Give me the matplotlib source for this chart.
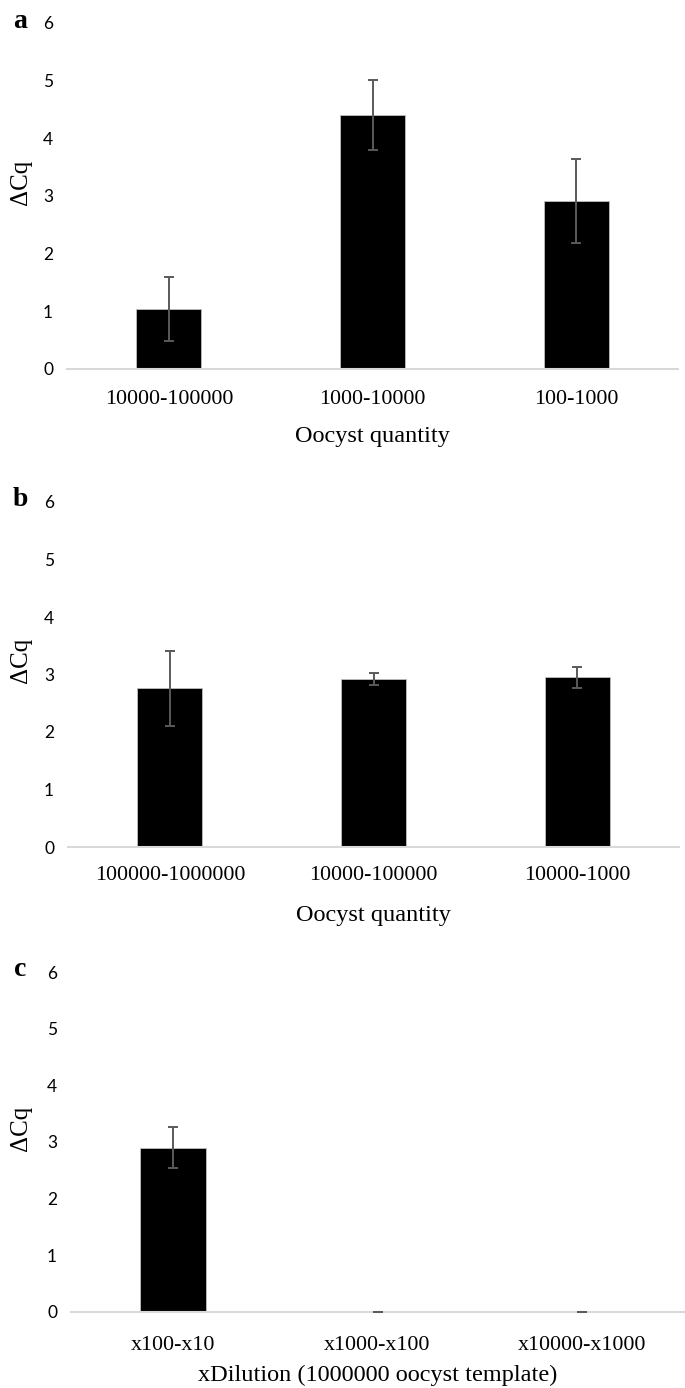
# 三个面板的 ΔCq 柱状图（带误差线）
import matplotlib.pyplot as plt
import numpy as np

# 数据
labels_a = ['10000-100000', '1000-10000', '100-1000']
dcq_a = [1.04, 4.40, 2.92]
err_a = [0.56, 0.61, 0.73]

labels_b = ['100000-1000000', '10000-100000', '10000-1000']
dcq_b = [2.76, 2.92, 2.95]
err_b = [0.65, 0.11, 0.18]

labels_c = ['x100-x10', 'x1000-x100', 'x10000-x1000']
dcq_c = [2.90, 0.0, 0.0]
err_c = [0.36, 0.0, 0.0]

xtitles = ['Oocyst quantity', 'Oocyst quantity', 'xDilution (1000000 oocyst template)']
letters = ['a', 'b', 'c']
yticks = [0, 1, 2, 3, 4, 5, 6]

W, H = 685, 1388
fig = plt.figure(figsize=(W / 100, H / 100), dpi=100)

# 每个面板的位置（像素）：左边、宽度、y=0 的位置、y=6 的位置、刻度标签间距(pt)、x 标题距离
panels = [
    (67, 611, 369, 23, 15, 68),
    (68, 611, 847, 502, 14, 68),
    (71, 613, 1312, 972, 17, 63),
]
data = [(labels_a, dcq_a, err_a), (labels_b, dcq_b, err_b), (labels_c, dcq_c, err_c)]

serif = 'Liberation Serif'
for i, ((left, wpx, y0, y6, xpad, tdist), (labs, vals, errs)) in enumerate(zip(panels, data)):
    hpx = y0 - y6
    ax = fig.add_axes([left / W, 1 - y0 / H, wpx / W, hpx / H])
    x = np.arange(len(labs))
    ax.bar(x, vals, width=0.32, color='black', edgecolor='#bfbfbf', linewidth=0.6, zorder=2)
    ax.errorbar(x, vals, yerr=errs, fmt='none', ecolor='#5a5a5a', elinewidth=1.4,
                capsize=3.6, capthick=1.4, zorder=3)
    ax.set_xlim(-0.5, 2.5)
    ax.set_ylim(0, 6)
    ax.set_yticks(yticks)
    ax.set_yticklabels([str(t) for t in yticks], family='Lato', fontsize=12.5)
    ax.set_xticks(x)
    ax.set_xticklabels(labs, family=serif, fontsize=15.8)
    ax.tick_params(axis='both', length=0)
    ax.tick_params(axis='y', pad=10)
    ax.tick_params(axis='x', pad=xpad)
    for s in ['top', 'right', 'left']:
        ax.spines[s].set_visible(False)
    ax.spines['bottom'].set_color('#d9d9d9')
    ax.spines['bottom'].set_linewidth(1.5)
    ax.set_ylabel('ΔCq', family=serif, fontsize=18, va='center')
    ax.yaxis.set_label_coords((21 - left) / wpx, 0.54)
    ax.set_xlabel(xtitles[i], family=serif, fontsize=17.5, va='center')
    ax.xaxis.set_label_coords(0.5, -tdist / hpx)
    fig.text(20 / W, 1 - (y6 - 2) / H, letters[i], family=serif, fontweight='bold',
             fontsize=20, ha='center', va='center')

fig.savefig('out.png', dpi=100)
